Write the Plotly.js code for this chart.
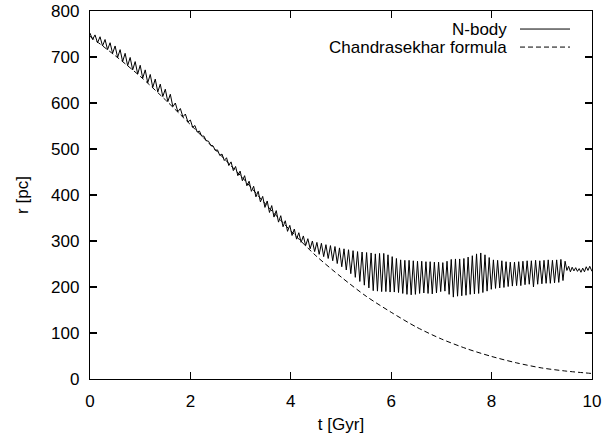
<!DOCTYPE html>
<html>
<head>
<meta charset="utf-8">
<script src="https://cdn.plot.ly/plotly-3.0.1.min.js"></script>
<style>html,body{margin:0;padding:0;background:#fff;}#chart{width:605px;height:436px;}</style>
</head>
<body>
<div id="chart"></div>
<script>
// N-body orbit radius: extrema (t in Gyr, r in pc)
var nbodyT1 = [0,0.05,0.1,0.15,0.2,0.25,0.3,0.35,0.4,0.45,0.5,0.55,0.6,0.65,0.7,0.75,0.8,0.85,0.9,0.95,1.0,1.05,1.1,1.15,1.2,1.25,1.3,1.35,1.4,1.45,1.5,1.55,1.6,1.65,1.7,1.75,1.8,1.85,1.9,1.95,2.0];
var nbodyR1 = [752,738,748,731,744,724,738,716,731,708,724,699,716,690,708,681,699,672,690,663,682,654,672,644,662,634,652,624,641,614,630,603,619,592,600,581,588,570,576,559,563];
var nbodyT2 = [2.045,2.09,2.135,2.18,2.225,2.27,2.315,2.36,2.405,2.45,2.495,2.54,2.585,2.63,2.675,2.72,2.765,2.81,2.855,2.9,2.945,2.99,3.035,3.08,3.125,3.17,3.215,3.26,3.305,3.35,3.395,3.44,3.485,3.53,3.575,3.62,3.665,3.71,3.755,3.8,3.845,3.89,3.935,3.98,4.025,4.07,4.115,4.16,4.205,4.25,4.295,4.34,4.385,4.43,4.475,4.52,4.565,4.61,4.655,4.7,4.745,4.79,4.835,4.88,4.925,4.97,5.015,5.06,5.105,5.15,5.195,5.24,5.285,5.33,5.375,5.42,5.465,5.51,5.555,5.6];
var nbodyR2 = [547,551,537,539,528,528,518,517,508,507,497,498,486,489,475,481,464,472,453,462,442,452,431,442,420,430,408,419,396,408,385,397,373,387,362,377,352,366,341,355,331,344,321,334,312,326,304,318,297,311,290,305,283,300,277,297,271,295,266,292,262,290,257,288,251,285,244,283,237,281,229,279,221,277,212,276,204,275,198,274];
var nbodyT3 = [5.642,5.684,5.726,5.768,5.81,5.852,5.894,5.936,5.978,6.02,6.062,6.104,6.146,6.188,6.23,6.272,6.314,6.356,6.398,6.44,6.482,6.524,6.566,6.608,6.65,6.692,6.734,6.776,6.818,6.86,6.902,6.944,6.986,7.028,7.07,7.112,7.154,7.196,7.238,7.28,7.322,7.364,7.406,7.448,7.49,7.532,7.574,7.616,7.658,7.7,7.742,7.784,7.826,7.868,7.91,7.952,7.994,8.036,8.078,8.12,8.162,8.204,8.246,8.288,8.33,8.372,8.414,8.456,8.498,8.54,8.582,8.624,8.666,8.708,8.75,8.792,8.834,8.876,8.918,8.96,9.002,9.044,9.086,9.128,9.17,9.212,9.254,9.296,9.338,9.38,9.422,9.464];
var nbodyR3 = [192,272,191,273,190,273,190,270,189,266,189,262,188,259,186,258,184,258,183,257,184,256,186,256,187,255,186,255,185,254,187,254,190,253,191,256,184,260,178,261,180,261,181,262,182,265,184,268,185,272,186,274,188,270,191,264,195,259,197,258,198,257,199,255,201,254,202,254,203,255,203,256,205,257,206,257,200,258,206,257,207,258,208,259,208,258,209,259,210,260,214,256];
var nbodyT4 = [9.5,9.535,9.57,9.605,9.64,9.675,9.71,9.745,9.78,9.815,9.85,9.885,9.92,9.955,10];
var nbodyR4 = [236,245,233,243,235,242,234,240,232,241,233,244,236,245,234];

// Chandrasekhar formula curve
var chandraT = [0,0.5,1,1.5,2,2.5,3,3.5,4,4.5,5,5.5,6,6.5,7,7.5,8,8.5,9,9.5,10];
var chandraR = [745,703,658,607,553,498,442,380,322,268,222,180,145,113,87,66,49,35,24,17,12];

var xTicks = [0,2,4,6,8,10];
var yTicks = [0,100,200,300,400,500,600,700,800];
var seriesNames = ["N-body", "Chandrasekhar formula"];

var nbodyT = nbodyT1.concat(nbodyT2, nbodyT3, nbodyT4);
var nbodyR = nbodyR1.concat(nbodyR2, nbodyR3, nbodyR4);

var FONT = "Liberation Sans, Arial, Helvetica, sans-serif";
var FS = 17;

var traces = [
  {x: nbodyT, y: nbodyR, type: "scatter", mode: "lines", name: seriesNames[0],
   line: {color: "#000", width: 1}, hoverinfo: "skip"},
  {x: chandraT, y: chandraR, type: "scatter", mode: "lines", name: seriesNames[1],
   line: {color: "#000", width: 1, dash: "5px,3px", shape: "spline", smoothing: 0.8}, hoverinfo: "skip"}
];

var axisCommon = {
  showline: true, linecolor: "#000", linewidth: 1.2, mirror: "ticks",
  ticks: "inside", ticklen: 7, tickwidth: 1.2, tickcolor: "#000",
  showgrid: false, zeroline: false,
  tickfont: {family: FONT, size: FS, color: "#000"}
};

var layout = {
  width: 605, height: 436,
  margin: {l: 90, r: 13, t: 11, b: 57},
  paper_bgcolor: "#fff", plot_bgcolor: "#fff",
  showlegend: false,
  font: {family: FONT, size: FS, color: "#000"},
  xaxis: Object.assign({}, axisCommon, {
    range: [0, 10], tickvals: xTicks, ticktext: xTicks.map(String),
    ticklabelstandoff: 6,
    title: {text: "t [Gyr]", font: {family: FONT, size: FS, color: "#000"}, standoff: 8}
  }),
  yaxis: Object.assign({}, axisCommon, {
    range: [0, 800], tickvals: yTicks, ticktext: yTicks.map(String),
    ticklabelstandoff: 6,
    title: {text: "r [pc]", font: {family: FONT, size: FS, color: "#000"}, standoff: 18}
  }),
  annotations: [
    {xref: "paper", yref: "paper", x: 0.8347, y: 0.951, xanchor: "right", yanchor: "middle",
     text: seriesNames[0], showarrow: false, font: {family: FONT, size: FS, color: "#000"}},
    {xref: "paper", yref: "paper", x: 0.8347, y: 0.902, xanchor: "right", yanchor: "middle",
     text: seriesNames[1], showarrow: false, font: {family: FONT, size: FS, color: "#000"}}
  ],
  shapes: [
    {type: "line", xref: "paper", yref: "paper", x0: 0.8566, x1: 0.9562, y0: 0.951, y1: 0.951,
     line: {color: "#000", width: 1}},
    {type: "line", xref: "paper", yref: "paper", x0: 0.8566, x1: 0.9562, y0: 0.902, y1: 0.902,
     line: {color: "#000", width: 1, dash: "5px,3px"}}
  ]
};

Plotly.newPlot("chart", traces, layout, {staticPlot: true, displayModeBar: false});
</script>
</body>
</html>
